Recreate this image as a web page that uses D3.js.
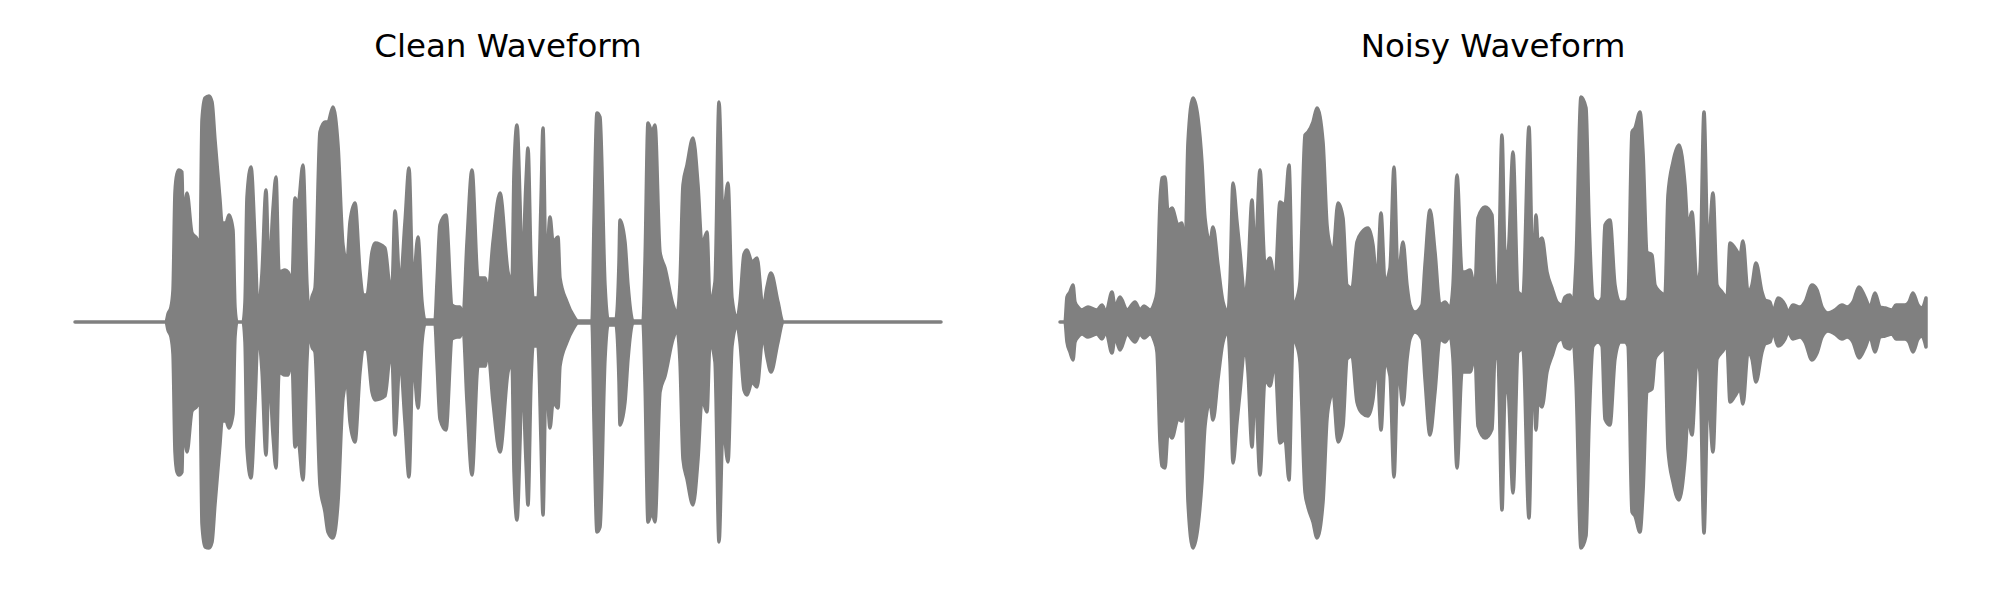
<!DOCTYPE html>
<html><head><meta charset="utf-8">
<script src="https://cdn.jsdelivr.net/npm/d3@7"></script>
<style>body{margin:0;background:#fff}</style>
</head><body>
<svg id="chart" width="2000" height="600"></svg>
<script>
// ---- data: amplitude envelope (time in ms, amplitude in arbitrary units) ----
const titles = ["Clean Waveform", "Noisy Waveform"];

const cleanTime = [
 0,455,465,480,490,500,510,520,535,540,560,
 585,610,625,635,650,670,685,700,725,735,
 755,770,790,800,810,840,850,860,880,900,
 915,935,955,970,990,1005,1020,1050,
 1065,1075,1085,1100,1115,
 1140,1160,1170,1185,1200,1225,1250,1265,1290,1315,
 1340,1360,1375,1400,1425,1440,1460,1485,1500,1550,
 1575,1585,1600,1625,1650,1670,1690,1715,1735,1750,
 1800,1810,1825,1855,1885,1910,1925,1940,1960,1985,
 2015,2050,2065,2090,2125,2165,2185,2195,2210,2225,
 2235,2255,2265,2280,2290,2315,2330,2340,2355,2375,
 2390,2415,2425,2460,2490,2515,2585,2595,2610,2625,
 2650,2665,2705,2720,2725,2750,2765,2790,2840,2850,
 2865,2885,2900,2925,2950,2990,3010,3025,3040,3060,
 3090,3115,3135,3160,3175,3200,3220,3240,3265,3285,
 3310,3325,3345,3360,3385,3410,3440,3460,3480,3515,
 3540,4330];
const cleanUpper = [
 0,0,8,15,32,130,148,152,150,99,129,
 89,83,65,202,224,226,220,182,122,99,
 99,107,92,15,0,0,20,125,155,82,
 12,49,132,50,113,145,50,52,
 50,45,40,124,117,
 157,37,7,25,34,190,200,200,215,177,
 77,60,100,119,50,27,27,70,79,74,
 37,37,111,37,100,154,37,85,20,2,
 2,40,97,107,17,15,15,5,80,152,
 44,44,30,80,129,50,40,150,197,120,
 47,140,174,60,24,24,120,194,50,105,
 80,85,44,20,7,1,1,100,209,205,
 37,3,3,60,102,80,37,1,1,60,
 199,190,197,70,54,17,8,40,137,157,
 184,137,77,90,20,40,220,104,139,24,
 3,20,68,72,60,64,14,35,49,20,
 0,0];
const cleanLower = [
 0,0,8,15,32,130,150,153,150,99,130,
 89,84,65,202,225,226,220,182,122,99,
 99,106,92,15,0,0,20,126,156,82,
 12,49,133,50,113,146,50,53,
 53,45,40,125,117,
 158,37,7,25,30,163,190,210,216,180,
 76,60,100,120,50,27,27,70,78,74,
 37,37,113,37,100,155,37,86,20,2,
 2,40,97,108,17,15,15,5,80,153,
 44,44,30,80,130,50,40,150,198,120,
 47,140,183,60,24,24,120,193,50,106,
 80,86,44,20,7,1,1,100,210,205,
 37,3,3,60,103,80,37,1,1,60,
 200,190,200,70,54,17,8,40,137,157,
 183,137,77,90,20,40,220,104,140,24,
 3,20,68,73,60,65,14,35,50,20,
 0,0];

const noisyTime = [
 0,25,35,50,65,75,90,110,140,185,
 210,230,260,275,300,335,375,400,420,450,
 470,485,500,510,525,540,560,590,610,625,
 640,665,690,710,725,750,765,790,815,840,
 850,865,885,900,925,940,960,975,1000,1025,
 1050,1075,1100,1125,1145,1165,1185,1200,1225,1240,
 1265,1285,1315,1335,1350,1365,1390,1415,1435,1460,
 1485,1510,1540,1565,1585,1605,1625,1650,1670,1690,
 1715,1735,1750,1775,1810,1825,1850,1875,1900,1925,
 1950,1965,1985,2010,2025,2050,2075,2090,2125,2160,
 2175,2190,2210,2225,2240,2265,2290,2315,2345,2365,
 2380,2390,2410,2435,2460,2485,2510,2525,2550,2565,
 2580,2605,2630,2645,2665,2690,2710,2725,2750,2775,
 2800,2825,2840,2860,2875,2900,2915,2935,2960,2975,
 3000,3025,3040,3065,3095,3125,3140,3160,3185,3200,
 3220,3240,3265,3285,3310,3335,3350,3375,3400,3415,
 3440,3460,3480,3510,3525,3550,3565,3590,3625,3640,
 3665,3700,3725,3760,3785,3810,3840,3875,3910,3935,
 3965,3995,4025,4050,4075,4100,4125,4160,4180,4200,
 4225,4245,4265,4290,4310,4330];
const noisyUpper = [
 0,0,25,30,37,20,15,12,15,12,
 17,10,30,15,25,12,20,12,16,12,
 18,30,120,144,145,110,114,97,99,64,
 180,224,204,159,104,80,95,57,20,10,
 40,139,100,70,24,50,122,64,152,57,
 64,40,120,117,157,17,24,40,187,190,
 200,214,180,97,77,70,119,104,37,34,
 80,90,94,77,40,109,40,54,155,44,
 80,37,17,10,17,57,112,70,17,20,
 14,37,147,50,50,52,34,104,115,107,
 34,37,187,70,70,170,30,27,195,37,
 107,80,84,50,34,20,17,25,27,17,
 60,225,214,104,24,20,24,97,102,37,
 20,20,24,190,194,210,170,70,67,37,
 30,27,127,160,177,137,94,110,37,50,
 210,70,129,37,30,24,79,74,67,81,
 30,37,59,30,22,20,10,24,17,10,
 17,15,20,37,32,15,9,12,17,15,
 20,35,25,15,29,15,14,12,17,17,
 17,20,29,17,14,24];
const noisyLower = [
 0,0,20,30,38,20,15,12,15,12,
 17,10,31,15,28,12,20,12,16,12,
 18,30,120,144,146,110,116,97,99,64,
 180,226,204,159,104,80,98,57,20,10,
 40,141,100,70,24,50,125,64,153,57,
 64,40,121,117,158,17,24,40,170,185,
 200,216,180,97,77,70,120,104,37,34,
 80,91,94,77,40,108,40,54,155,44,
 83,37,17,10,17,57,113,70,17,20,
 14,37,146,50,50,50,34,104,116,107,
 34,37,188,70,70,171,30,27,196,37,
 108,80,85,50,34,20,17,25,27,17,
 60,226,214,104,24,20,24,97,103,37,
 20,20,24,190,194,210,170,70,67,37,
 30,27,127,160,178,137,94,113,37,50,
 211,70,130,37,30,24,80,74,67,82,
 30,37,60,30,22,20,10,24,17,10,
 17,15,20,38,31,15,9,12,17,15,
 20,36,26,15,30,15,14,12,17,17,
 17,20,30,17,14,25];

// ---- drawing ----
const svg = d3.select("#chart");
const color = "#808080";
const panels = [
  {title: titles[0], time: cleanTime, up: cleanUpper, lo: cleanLower, x0: 75, x1: 941},
  {title: titles[1], time: noisyTime, up: noisyUpper, lo: noisyLower, x0: 1060, x1: 1926}
];
const cy = 322;
const y = d3.scaleLinear().domain([-240, 240]).range([cy + 240, cy - 240]);

panels.forEach(p => {
  const x = d3.scaleLinear().domain([0, 4330]).range([p.x0, p.x1]);
  const n = Math.min(p.time.length, p.up.length, p.lo.length);
  const idx = d3.range(n);
  const area = d3.area()
    .curve(d3.curveMonotoneX)
    .x(i => x(p.time[i]))
    .y0(i => y(-p.lo[i]))
    .y1(i => y(p.up[i]));
  svg.append("path")
    .attr("d", area(idx))
    .attr("fill", color)
    .attr("stroke", color)
    .attr("stroke-width", 3.5)
    .attr("stroke-linejoin", "round");
  svg.append("text")
    .attr("x", (p.x0 + p.x1) / 2)
    .attr("y", 57)
    .attr("text-anchor", "middle")
    .attr("font-family", "DejaVu Sans")
    .attr("font-size", 32.5)
    .attr("fill", "#000")
    .text(p.title);
});
</script>
</body></html>
